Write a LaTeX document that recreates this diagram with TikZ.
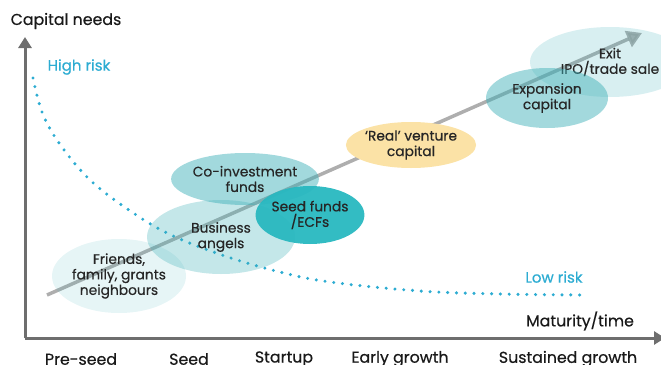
\documentclass[tikz,border=0pt]{standalone}
\usepackage{fontspec}
\setmainfont{Poppins}[FakeBold=0.5]
\usetikzlibrary{arrows.meta,shapes.geometric}
\definecolor{vcteal}{RGB}{60,175,183}
\definecolor{seedteal}{RGB}{40,184,192}
\definecolor{vcgold}{RGB}{251,226,166}
\definecolor{riskblue}{RGB}{45,172,210}
\definecolor{axisgray}{RGB}{110,110,110}
\definecolor{growthgray}{RGB}{160,160,160}
\tikzset{
  blob/.style={shape=ellipse,inner sep=0pt,align=center,text=black!85,
    text opacity=1,font=\fontsize{13.8}{15.5}\selectfont},
  axislabel/.style={text=black!90,font=\fontsize{15.8}{17}\selectfont},
  risklabel/.style={text=riskblue,font=\fontsize{15}{16}\selectfont}
}

\begin{document}
\begin{tikzpicture}[x=1pt,y=-1pt]
\useasboundingbox (0,0) rectangle (661,364);
\clip (0,0) rectangle (661,364);
% axes
\coordinate (origin) at (25,338);
\coordinate (ytop) at (25,37);
\coordinate (xend) at (665,338);
\draw[axisgray,line width=3pt,-{Triangle[length=11pt,width=13pt]}] (origin) -- (ytop);
\draw[axisgray,line width=3pt,-{Triangle[length=11pt,width=13pt]}] (origin) -- (xend);
% risk curve
\draw[riskblue,line width=3.4pt,line cap=round,dash pattern=on 0pt off 8.8pt]
  plot[smooth,tension=0.6] coordinates {(33,78) (42,112) (59,143) (89,179) (126,208)
  (167,233) (219,254) (276,271) (330,282) (420,291) (500,294) (588,295)};
% growth arrow
\coordinate (g0) at (47,295);
\coordinate (g1) at (642,33);
\draw[growthgray,opacity=0.85,line width=3.5pt,-{Triangle[length=15pt,width=17pt]}] (g0) -- (g1);
% funding stages
\node[blob,fill=vcteal,fill opacity=0.13,minimum width=134pt,minimum height=74pt] (friends) at (119,276) {Friends,\\family, grants\\neighbours};
\node[blob,fill=vcteal,fill opacity=0.3,minimum width=148pt,minimum height=74pt] (angels) at (221,237) {Business\\angels};
\node[blob,fill=vcteal,fill opacity=0.48,minimum width=116pt,minimum height=52pt] (coinv) at (245,179) {Co-investment\\funds};
\node[blob,fill=vcgold,minimum width=122pt,minimum height=46pt] (realvc) at (411,145) {‘Real’ venture\\capital};
\node[blob,fill=vcteal,fill opacity=0.2,minimum width=160pt,minimum height=70pt] (exit) at (610,62) {Exit\\IPO/trade sale};
\node[blob,fill=vcteal,fill opacity=0.47,minimum width=122pt,minimum height=60pt] (expansion) at (547,98) {Expansion\\capital};
\node[blob,fill=seedteal,fill opacity=0.95,minimum width=100pt,minimum height=58pt] (seed) at (310,215) {Seed funds\\/ECFs};
% labels
\node[axislabel] (cap) at (66,21) {Capital needs};
\node[axislabel] (mat) at (580,321) {Maturity/time};
\node[risklabel] (high) at (79,67) {High risk};
\node[risklabel] (low) at (554,277) {Low risk};
\foreach \n/\x/\l in{
preseed/81/Pre-seed,
seedst/189/Seed,
startup/284/Startup,
early/400/Early growth,
sustained/568/Sustained growth
}
{
        \node[axislabel] (\n) at (\x,359) {\l};
    }
\end{tikzpicture}
\end{document}
